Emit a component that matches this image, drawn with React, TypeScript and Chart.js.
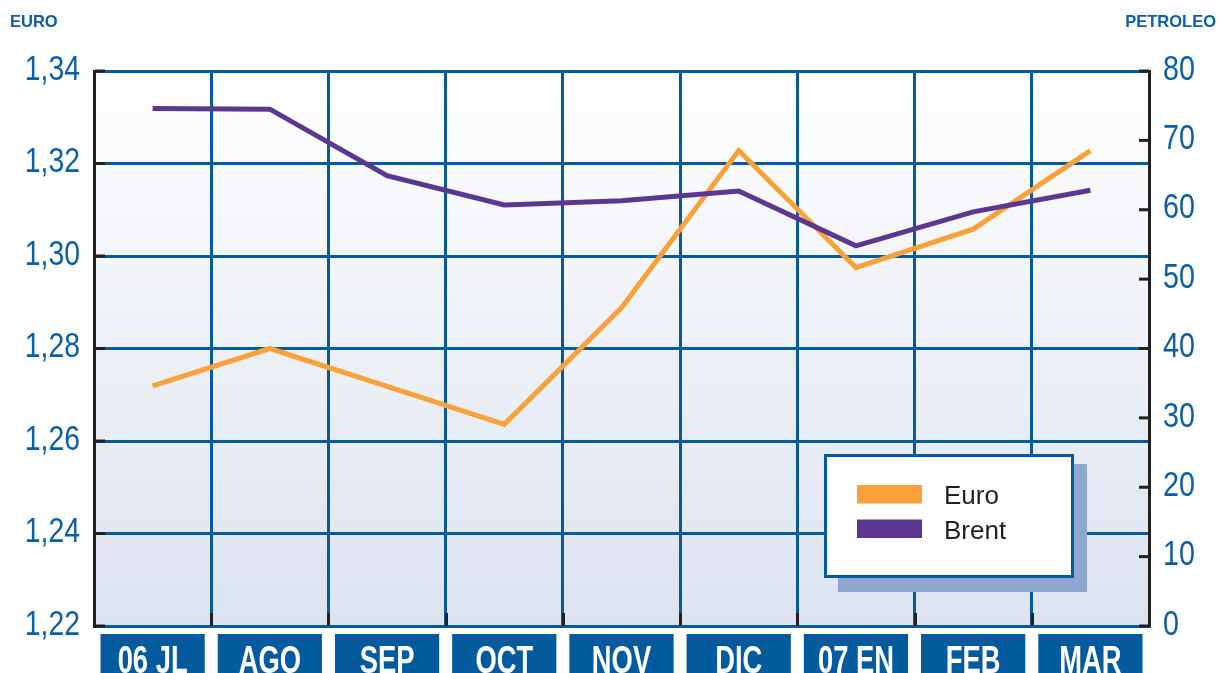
import React, { useEffect, useRef } from 'react';
import { Chart, registerables } from 'chart.js';

Chart.register(...registerables);

const categories = ['06 JL', 'AGO', 'SEP', 'OCT', 'NOV', 'DIC', '07 EN', 'FEB', 'MAR'];
const euroValues = [1.2719, 1.2800, 1.2718, 1.2636, 1.2888, 1.3228, 1.2975, 1.3058, 1.3228];
const brentValues = [74.6, 74.5, 64.9, 60.7, 61.3, 62.7, 54.8, 59.7, 62.8];
const euroAxis = { min: 1.22, max: 1.34, step: 0.02, title: 'EURO' };
const brentAxis = { min: 0, max: 80, step: 10, title: 'PETROLEO' };
const seriesNames = ['Euro', 'Brent'];

const BLUE = '#035B9E';
const TEXT_BLUE = '#0B5FA4';
const ORANGE = '#F9A23B';
const PURPLE = '#5C3792';
const SANS = "'Liberation Sans', Arial, Helvetica, sans-serif";

const fmt = (v: any) => Number(v).toFixed(2).replace('.', ',');

function narrowText(ctx: any, text: string, x: number, y: number, align: string, font: string, color: string, squeeze: number, baseline = 'alphabetic') {
  ctx.save();
  ctx.translate(x, y);
  ctx.scale(squeeze, 1);
  ctx.font = font;
  ctx.fillStyle = color;
  ctx.textAlign = align;
  ctx.textBaseline = baseline;
  ctx.fillText(text, 0, 0);
  ctx.restore();
}

const decor = {
  id: 'decor',
  beforeDraw(chart: any) {
    const { ctx, chartArea: a } = chart;
    const g = ctx.createLinearGradient(0, a.top, 0, a.bottom);
    g.addColorStop(0, '#ffffff');
    g.addColorStop(1, '#dce2ef');
    ctx.save();
    ctx.fillStyle = g;
    ctx.fillRect(a.left, a.top, a.right - a.left, a.bottom - a.top);
    ctx.restore();
  },
  afterDraw(chart: any) {
    const { ctx, chartArea: a, scales } = chart;
    const x = scales.x;
    const y = scales.y;
    const y1 = scales.y1;
    ctx.save();

    // inward black tick marks
    ctx.strokeStyle = '#231f20';
    ctx.lineWidth = 3;
    const colW = x.getPixelForValue(1) - x.getPixelForValue(0);
    for (let i = 1; i < categories.length; i++) {
      const px = Math.round(x.getPixelForValue(i) - colW / 2) + 0.5;
      ctx.beginPath();
      ctx.moveTo(px, a.bottom - 13);
      ctx.lineTo(px, a.bottom);
      ctx.stroke();
    }
    y.ticks.forEach((t: any) => {
      const py = y.getPixelForValue(t.value);
      ctx.beginPath();
      ctx.moveTo(a.left + 1, py);
      ctx.lineTo(a.left + 11, py);
      ctx.stroke();
    });
    y1.ticks.forEach((t: any) => {
      const py = y1.getPixelForValue(t.value);
      ctx.beginPath();
      ctx.moveTo(a.right - 10, py);
      ctx.lineTo(a.right, py);
      ctx.stroke();
    });

    // axis tick labels (condensed)
    const tickFont = `35px ${SANS}`;
    y.ticks.forEach((t: any) => {
      const py = y.getPixelForValue(t.value);
      narrowText(ctx, fmt(t.value), a.left - 14, py - 1, 'right', tickFont, TEXT_BLUE, 0.81, 'middle');
    });
    y1.ticks.forEach((t: any) => {
      const py = y1.getPixelForValue(t.value);
      narrowText(ctx, String(t.value), a.right + 14, py - 1, 'left', tickFont, TEXT_BLUE, 0.82, 'middle');
    });

    // category boxes
    const boxW = colW - 13;
    categories.forEach((c, i) => {
      const cx = x.getPixelForValue(i);
      ctx.fillStyle = BLUE;
      ctx.fillRect(cx - boxW / 2, a.bottom + 8, boxW, chart.height - a.bottom - 8);
      narrowText(ctx, c, cx, 673, 'center', `bold 38px ${SANS}`, '#ffffff', 0.72);
    });

    // axis titles
    ctx.fillStyle = TEXT_BLUE;
    ctx.font = `bold 16.5px ${SANS}`;
    ctx.textAlign = 'left';
    ctx.textBaseline = 'alphabetic';
    ctx.fillText(euroAxis.title, 10, 27);
    ctx.textAlign = 'right';
    ctx.fillText(brentAxis.title, 1216, 27);

    // legend
    const lx = 824, ly = 454, lw = 250, lh = 124;
    ctx.fillStyle = '#8EA7CF';
    ctx.fillRect(lx + 14, ly + 10, lw - 1, lh + 4);
    ctx.fillStyle = '#ffffff';
    ctx.fillRect(lx, ly, lw, lh);
    ctx.strokeStyle = BLUE;
    ctx.lineWidth = 3;
    ctx.strokeRect(lx + 1.5, ly + 1.5, lw - 3, lh - 3);
    const ds = chart.data.datasets;
    [0, 1].forEach((r, k) => {
      const sy = 485 + k * 34.5;
      ctx.fillStyle = ds[r].borderColor;
      ctx.fillRect(857, sy, 65, 18.5);
      ctx.fillStyle = '#231f20';
      ctx.font = `26px ${SANS}`;
      ctx.textAlign = 'left';
      ctx.fillText(ds[r].label, 944, sy + 19);
    });

    ctx.restore();
  },
};

export default function App() {
  const ref = useRef<HTMLCanvasElement | null>(null);
  useEffect(() => {
    document.body.style.margin = '0';
    const canvas = ref.current;
    if (!canvas) return;
    const chart = new Chart(canvas, {
      type: 'line',
      data: {
        labels: categories,
        datasets: [
          {
            label: seriesNames[0],
            data: euroValues,
            yAxisID: 'y',
            borderColor: ORANGE,
            backgroundColor: ORANGE,
            borderWidth: 5,
            pointRadius: 0,
            tension: 0,
            borderJoinStyle: 'miter',
            borderCapStyle: 'butt',
            order: 1,
          },
          {
            label: seriesNames[1],
            data: brentValues,
            yAxisID: 'y1',
            borderColor: PURPLE,
            backgroundColor: PURPLE,
            borderWidth: 5,
            pointRadius: 0,
            tension: 0,
            borderJoinStyle: 'miter',
            borderCapStyle: 'butt',
            order: 0,
          },
        ],
      },
      options: {
        responsive: false,
        maintainAspectRatio: false,
        devicePixelRatio: 1,
        animation: false,
        layout: { padding: { top: 71, left: 0, right: 0, bottom: 0 } },
        plugins: {
          legend: { display: false },
          tooltip: { enabled: false },
        },
        scales: {
          x: {
            type: 'category',
            offset: true,
            grid: {
              offset: true,
              color: BLUE,
              lineWidth: 3,
              drawTicks: false,
              tickLength: 0,
            },
            border: { display: true, color: BLUE, width: 3 },
            ticks: { display: false },
            afterFit: (s: any) => { s.height = 47; },
          },
          y: {
            position: 'left',
            min: euroAxis.min,
            max: euroAxis.max,
            grid: { color: BLUE, lineWidth: 3, drawTicks: false, tickLength: 0 },
            border: { display: true, color: '#231f20', width: 3 },
            ticks: {
              stepSize: euroAxis.step,
              color: 'rgba(0,0,0,0)',
              font: { family: SANS, size: 34 },
              padding: 13,
              callback: (v: any) => fmt(v),
            },
            afterFit: (s: any) => { s.width = 94; },
          },
          y1: {
            position: 'right',
            min: brentAxis.min,
            max: brentAxis.max,
            grid: { drawOnChartArea: false, drawTicks: false, tickLength: 0 },
            border: { display: true, color: '#231f20', width: 3 },
            ticks: {
              stepSize: brentAxis.step,
              color: 'rgba(0,0,0,0)',
              font: { family: SANS, size: 34 },
              padding: 14,
            },
            afterFit: (s: any) => { s.width = 70; },
          },
        },
      },
      plugins: [decor],
    } as any);
    return () => chart.destroy();
  }, []);
  return <canvas ref={ref} width={1219} height={673} style={{ display: 'block', width: 1219, height: 673 }} />;
}
